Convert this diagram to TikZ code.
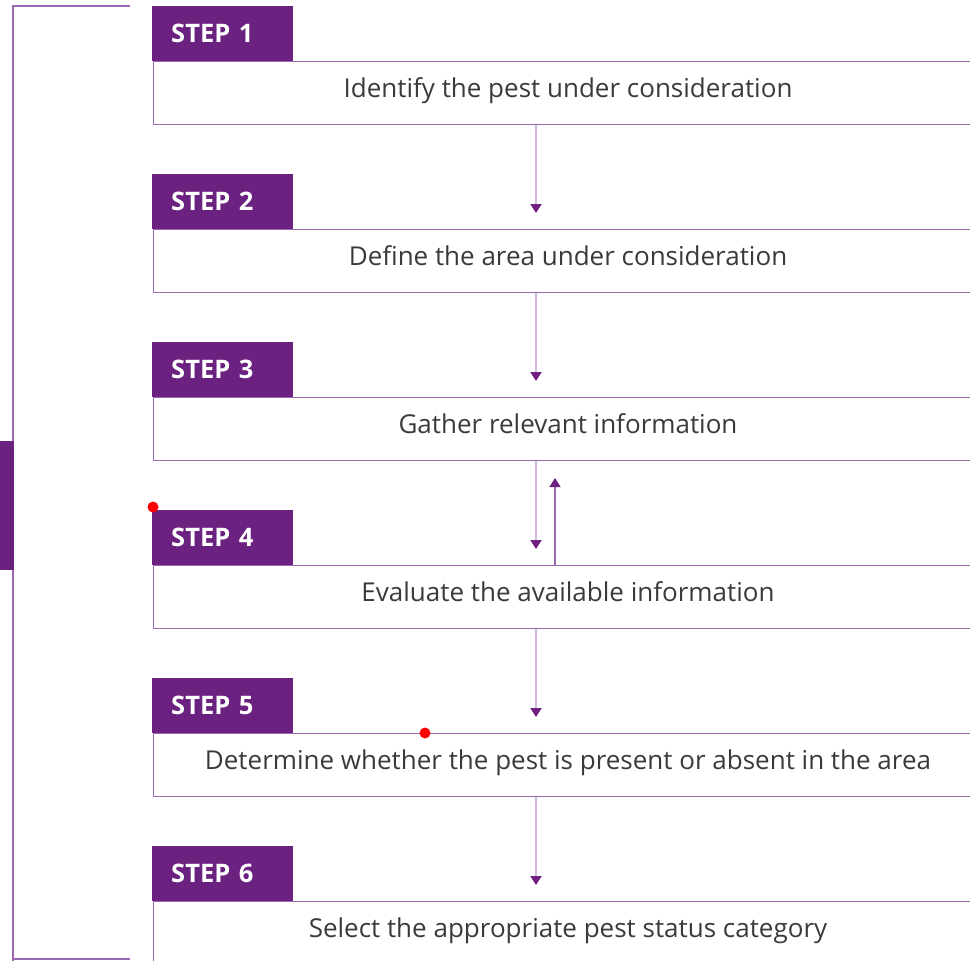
\documentclass[tikz,border=0pt]{standalone}
\usepackage{fontspec}
\setmainfont{Open Sans}
\usetikzlibrary{arrows.meta}
\definecolor{pdark}{HTML}{6B2180}
\definecolor{pline}{HTML}{9A68B0}
\definecolor{plight}{HTML}{D5B8E0}
\definecolor{ptext}{HTML}{3A3A3A}
\tikzset{
  steplabel/.style={fill=pdark, text=white, font=\bfseries\fontsize{25.5}{28}\selectfont, minimum width=141pt, minimum height=55pt, inner xsep=19pt, inner ysep=0pt, text width=103pt, align=left, anchor=north west},
  stepbox/.style={draw=pline, line width=1.4pt, minimum width=840pt, minimum height=63pt, inner sep=0pt, anchor=north west},
  boxtext/.style={text=ptext, font=\fontsize{26}{30}\selectfont, anchor=base},
  downarrow/.style={draw=plight, line width=2.2pt, -{Triangle[length=9pt,width=11pt,fill=pdark,color=pdark]}},
  uparrow/.style={draw=pline, line width=1.4pt, -{Triangle[length=9pt,width=11pt,fill=pdark,color=pdark]}},
  bracket/.style={draw=pline, line width=2pt},
  reddot/.style={circle, fill=red, inner sep=0pt, minimum size=11pt}
}
\begin{document}
\begin{tikzpicture}[x=1pt,y=-1pt]
\useasboundingbox (0,0) rectangle (970,961);
\clip (0,0) rectangle (970,961);
% left bracket
\draw[bracket] (130,6) -- (13,6) -- (13,961);
\draw[bracket] (13,959) -- (130,959);
\fill[pdark] (0,441) rectangle (14,570);
% steps
\foreach \i/\t [count=\k from 0] in {1/Identify the pest under consideration,
  2/Define the area under consideration,
  3/Gather relevant information,
  4/Evaluate the available information,
  5/Determine whether the pest is present or absent in the area,
  6/Select the appropriate pest status category}{
  \node[stepbox] (box\i) at (153,{61+168*\k}) {};
  \node[boxtext] (txt\i) at (568,{97+168*\k}) {\t};
  \node[steplabel] (lab\i) at (152,{6+168*\k}) {STEP \i};
}
% arrows
\foreach \a/\b [count=\k from 0] in {1/2,2/3,3/4,4/5,5/6}{
  \coordinate (tip\a) at (536,{213+168*\k});
  \draw[downarrow] (box\a.south -| tip\a) -- (tip\a);
}
\coordinate (uptip) at (555,478);
\draw[uparrow] (box4.north -| uptip) -- (uptip);
% red markers
\node[reddot] (dot1) at (153,507) {};
\node[reddot] (dot2) at (425,733) {};
\end{tikzpicture}
\end{document}
